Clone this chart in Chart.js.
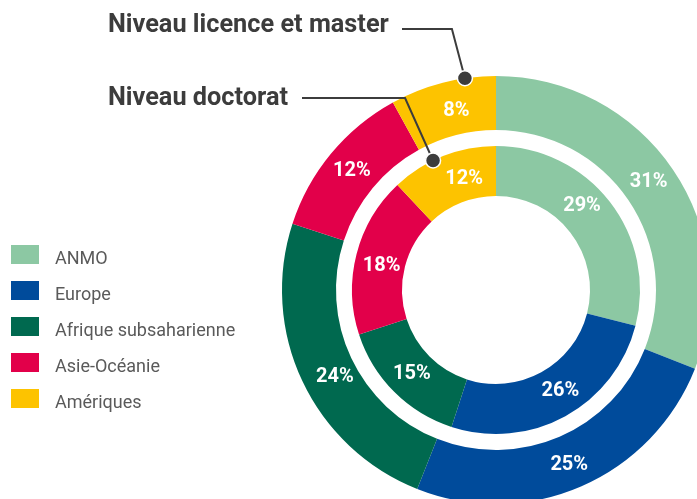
<!DOCTYPE html>
<html><head><meta charset="utf-8">
<script src="https://cdn.jsdelivr.net/npm/chart.js@4.4.1/dist/chart.umd.min.js"></script>
<style>
html,body{margin:0;padding:0;width:697px;height:499px;overflow:hidden;background:#fff;font-family:Roboto,sans-serif;}
#wrap{position:absolute;left:0;top:0;width:720px;height:520px;}
.title{position:absolute;font-weight:bold;font-size:25.3px;color:#3c3c3c;white-space:nowrap;line-height:30px;}
.leg{position:absolute;left:11px;height:19px;font-size:18px;color:#5a5a5a;white-space:nowrap;}
.leg span.sw{position:absolute;left:0;top:0;width:28px;height:19px;}
.leg span.tx{position:absolute;left:44px;top:3px;line-height:19px;}
</style></head>
<body>
<div id="wrap"><canvas id="c" width="720" height="520"></canvas></div>
<div class="title" style="left:108px;top:9px;">Niveau licence et master</div>
<div class="title" style="left:108px;top:81.5px;">Niveau doctorat</div>
<div id="legend"></div>
<script>
const categories = ["ANMO","Europe","Afrique subsaharienne","Asie-Océanie","Amériques"];
const licenceMaster = [31,25,24,12,8];
const doctorat = [29,26,15,18,12];
const colors = ["#8cc8a3","#004b9b","#00694f","#e2004a","#fdc300"];

const legend = document.getElementById('legend');
categories.forEach((c,i)=>{
  const d=document.createElement('div');d.className='leg';d.style.top=(245+36*i)+'px';
  d.innerHTML='<span class="sw" style="background:'+colors[i]+'"></span><span class="tx">'+c+'</span>';
  legend.appendChild(d);
});

// small manual label nudges (pixels) per ring, as in the original layout
const labelNudge = {0:[[-2,-3],[-1,3],[8,7],[0,0],[7,2]], 2:[[-8,-11],[7,-3],[0,0],[1,6],[12,0]]};

const labelsPlugin={id:'pct',afterDatasetsDraw(chart){
  const ctx=chart.ctx;ctx.save();
  ctx.font='bold 20px Roboto';ctx.fillStyle='#fff';ctx.textAlign='center';ctx.textBaseline='middle';
  [0,2].forEach(di=>{
    const meta=chart.getDatasetMeta(di);const vals=chart.data.datasets[di].data;
    meta.data.forEach((arc,i)=>{const p=arc.tooltipPosition();const n=labelNudge[di][i];
      ctx.fillText(vals[i]+'%',p.x+n[0],p.y+n[1]);});
  });
  ctx.restore();
}};
const leaderPlugin={id:'leaders',afterDraw(chart){
  const ctx=chart.ctx;ctx.save();
  const defs=[{ds:0,frac:0.71,cornerDx:-13,y:29,endX:402},{ds:2,frac:0.40,cornerDx:-28,y:98,endX:302}];
  defs.forEach(d=>{
    const arc=chart.getDatasetMeta(d.ds).data[4];
    const pr=arc.getProps(['x','y','startAngle','endAngle','outerRadius']);
    const a=pr.startAngle+(pr.endAngle-pr.startAngle)*d.frac;
    const px=pr.x+Math.cos(a)*pr.outerRadius, py=pr.y+Math.sin(a)*pr.outerRadius;
    ctx.strokeStyle='#3c3c3c';ctx.lineWidth=2;
    ctx.beginPath();ctx.moveTo(d.endX,d.y);ctx.lineTo(px+d.cornerDx,d.y);ctx.lineTo(px,py);ctx.stroke();
    ctx.beginPath();ctx.arc(px,py,7.5,0,Math.PI*2);ctx.fillStyle='#3c3c3c';ctx.fill();
    ctx.lineWidth=1.5;ctx.strokeStyle='#fff';ctx.stroke();
  });
  ctx.restore();
}};

new Chart(document.getElementById('c'),{
  type:'doughnut',
  data:{labels:categories,datasets:[
    {data:licenceMaster,backgroundColor:colors,borderWidth:0,weight:54},
    {data:[100],backgroundColor:['rgba(0,0,0,0)'],borderWidth:0,weight:16},
    {data:doctorat,backgroundColor:colors,borderWidth:0,weight:50}
  ]},
  options:{responsive:false,animation:false,events:[],cutout:94,
    layout:{padding:{left:282,top:76,right:10,bottom:16}},
    plugins:{legend:{display:false},tooltip:{enabled:false}}},
  plugins:[labelsPlugin,leaderPlugin]
});
</script>
</body></html>
